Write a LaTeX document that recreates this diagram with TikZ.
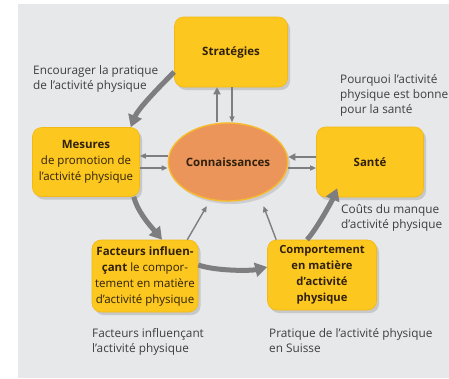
\documentclass[tikz,border=0pt]{standalone}
\usepackage{fontspec}
\setmainfont{Open Sans}
\usepackage{tikz}
\usetikzlibrary{shapes, arrows.meta, positioning, calc, shadows}

\definecolor{fond}{RGB}{231,232,234}
\definecolor{jaune}{RGB}{252,200,32}
\definecolor{bordjaune}{RGB}{244,184,20}
\definecolor{orange}{RGB}{235,149,90}
\definecolor{bordorange}{RGB}{247,186,45}
\definecolor{gris}{RGB}{126,126,128}
\definecolor{brun}{RGB}{48,32,12}
\definecolor{texte}{RGB}{62,62,64}

\begin{document}
\begin{tikzpicture}[x=1pt, y=-1pt,
		every node/.style={font=\fontsize{11.5}{16}\selectfont},
		boite/.style={draw=bordjaune, line width=.6pt, fill=jaune, rounded corners=9pt, align=center, text=brun, inner sep=2pt,
			drop shadow={shadow xshift=2.5pt, shadow yshift=-3pt, opacity=.3}},
		ovale/.style={ellipse, draw=bordorange, line width=1.4pt, fill=orange, text=brun, inner sep=0pt,
			minimum width=115pt, minimum height=78pt, drop shadow={shadow xshift=2.5pt, shadow yshift=-3pt, opacity=.25}},
		note/.style={align=left, anchor=base west, inner sep=0pt, text=texte, font=\fontsize{11.8}{15}\selectfont},
		grosse/.style={draw=gris, line width=5pt, -{Triangle[width=14pt, length=12pt]}},
		moyenne/.style={draw=gris, line width=2.8pt, -{Triangle[width=7pt, length=7pt]}},
		fine/.style={draw=gris, line width=1.4pt, -{Triangle[width=5pt, length=6pt]}}]
	\useasboundingbox (0,0) rectangle (449,378);
	\fill[fond] (18,4) rectangle (449,378);

	% boites
	\node[boite, minimum width=113pt, minimum height=70pt] (strat) at (231,52) {\textbf{Stratégies}};
	\node[boite, minimum width=107pt, minimum height=69pt] (mesures) at (86,162) {\textbf{Mesures}\\de promotion de\\l’activité physique};
	\node[boite, minimum width=107pt, minimum height=70pt] (sante) at (370,162) {\textbf{Santé}};
	\node[boite, minimum width=106pt, minimum height=72pt] (facteurs) at (145,276) {\textbf{Facteurs influen-}\\\textbf{çant} le compor-\\tement en matière\\d’activité physique};
	\node[boite, minimum width=109pt, minimum height=70pt, font=\fontsize{11.2}{16}\selectfont\bfseries] (comport) at (322,275) {Comportement\\en matière\\d’activité\\physique};
	\node[ovale] (conn) at (228,162) {\textbf{Connaissances}};

	% cycle
	\draw[grosse] ([yshift=-20pt]strat.west) .. controls +(-17,17) and +(7,-18) .. ([xshift=-9pt]mesures.north east);
	\draw[grosse] ([xshift=-6pt]mesures.south east) .. controls +(4,16) and +(-10,-12) .. ([xshift=17pt]facteurs.north);
	\draw[grosse] ([yshift=11pt]facteurs.east) .. controls +(17,6) and +(-17,4) .. ([yshift=8pt]comport.west);
	\draw[grosse] ([xshift=-15pt]comport.north) .. controls +(10,-11) and +(-5,12) .. ([xshift=21pt, yshift=9pt]sante.south west);

	% liens avec les connaissances
	\draw[moyenne] ([xshift=-11pt]conn.north) -- ([xshift=-14pt]strat.south);
	\draw[fine] ([xshift=1pt]strat.south) -- ([xshift=4pt]conn.north);
	\draw[fine] ([yshift=6pt]conn.west) -- ([yshift=6pt]mesures.east);
	\draw[fine] ([yshift=-6pt]mesures.east) -- ([yshift=-6pt]conn.west);
	\draw[moyenne] ([yshift=5pt]sante.west) -- ([yshift=5pt]conn.east);
	\draw[fine] ([yshift=-6pt]conn.east) -- ([yshift=-6pt]sante.west);
	\draw[fine, shorten >=7pt] ([xshift=-11pt]facteurs.north east) -- (conn.245);
	\draw[fine, shorten >=11pt] ([xshift=9pt]comport.north west) -- (conn.313);

	% textes (y = ligne de base de la derniere ligne)
	\foreach \nom/\x/\y/\txt in {
		encourager/33/89/{Encourager la pratique\\de l’activité physique},
		pourquoi/340/113/{Pourquoi l’activité\\physique est bonne\\pour la santé},
		couts/341/228/{Coûts du manque\\d’activité physique},
		influence/92/352/{Facteurs influençant\\l’activité physique},
		pratique/269/352/{Pratique de l’activité physique\\en Suisse}}{
		\node[note] (\nom) at (\x,\y) {\txt};
	}
\end{tikzpicture}
\end{document}
